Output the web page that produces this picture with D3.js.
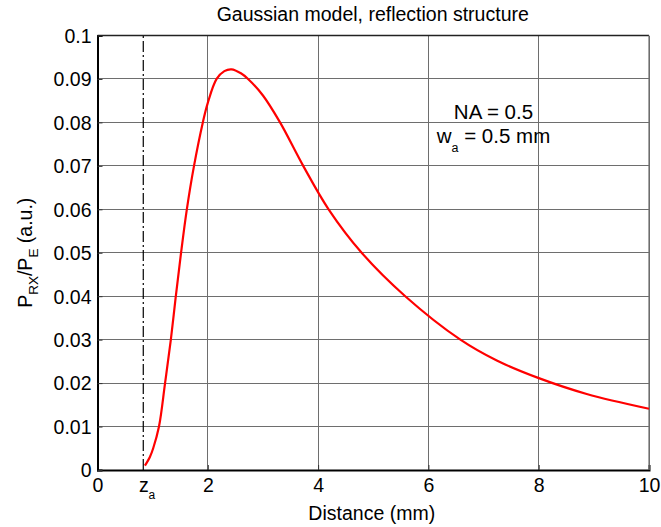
<!DOCTYPE html>
<html><head><meta charset="utf-8">
<script src="https://cdn.jsdelivr.net/npm/d3@7"></script>
<style>
body{margin:0;background:#fff}
svg text{font-family:"Liberation Sans",Arial,Helvetica,sans-serif;fill:#000}
</style>
</head><body>
<svg id="chart" width="661" height="527"></svg>
<script>
// ---- data ----
const distance = [0.86, 0.95, 1.01, 1.115, 1.225, 1.33, 1.42, 1.515, 1.62, 1.75, 1.91, 2.0, 2.16, 2.3, 2.43, 2.6, 2.73, 3.0, 3.31, 3.73, 4.19, 4.79, 5.58, 6.58, 7.24, 7.99, 8.87, 10.0];
const power    = [0.001, 0.003, 0.005, 0.010, 0.020, 0.030, 0.040, 0.050, 0.060, 0.070, 0.080, 0.0845, 0.090, 0.0918, 0.0922, 0.0913, 0.090, 0.0862, 0.080, 0.070, 0.060, 0.050, 0.040, 0.030, 0.0252, 0.0212, 0.0175, 0.0141];
const zA = 0.83;
const xTickValues = [0, zA, 2, 4, 6, 8, 10];
const xTickLabels = ["0", "z_a", "2", "4", "6", "8", "10"];
const xGridValues = [2, 4, 6, 8, 10];
const yTickValues = [0, 0.01, 0.02, 0.03, 0.04, 0.05, 0.06, 0.07, 0.08, 0.09, 0.1];
const yTickLabels = ["0", "0.01", "0.02", "0.03", "0.04", "0.05", "0.06", "0.07", "0.08", "0.09", "0.1"];
const titleText = "Gaussian model, reflection structure";
const xLabelText = "Distance (mm)";
const annotNA = "NA = 0.5";
const annotW = ["w", "a", " = 0.5 mm"];

// ---- layout ----
const W = 661, H = 527;
const m = {left: 97.5, right: 12, top: 35.5, bottom: 57};
const svg = d3.select("#chart");
const x = d3.scaleLinear().domain([0, 10]).range([m.left, W - m.right]);
const y = d3.scaleLinear().domain([0, 0.1]).range([H - m.bottom, m.top]);
const FS = 19.5;

// grid
const grid = svg.append("g").attr("stroke", "#6e6e6e").attr("stroke-width", 1).attr("shape-rendering", "crispEdges");
grid.selectAll("line.gx").data(xGridValues).join("line")
  .attr("x1", d => x(d)).attr("x2", d => x(d)).attr("y1", y(0)).attr("y2", y(0.1));
grid.selectAll("line.gy").data(yTickValues.slice(1, -1)).join("line")
  .attr("y1", d => y(d)).attr("y2", d => y(d)).attr("x1", x(0)).attr("x2", x(10));

// axes (ticks drawn inward)
const xAxis = d3.axisBottom(x).tickValues(xTickValues).tickSize(-5).tickPadding(8)
  .tickFormat((d, i) => xTickLabels[i]);
const gx = svg.append("g").attr("transform", `translate(0,${y(0)})`).call(xAxis);
const yAxis = d3.axisLeft(y).tickValues(yTickValues).tickSize(-5).tickPadding(6)
  .tickFormat((d, i) => yTickLabels[i]);
const gy = svg.append("g").attr("transform", `translate(${x(0)},0)`).call(yAxis);
[gx, gy].forEach(g => {
  g.select(".domain").attr("stroke", "#000").attr("stroke-width", 2);
  g.selectAll(".tick line").attr("stroke", "#333");
  g.selectAll("text").attr("font-size", FS).attr("font-family", null);
});
gx.selectAll(".tick line").filter(d => d === zA || d === 0).remove();
gx.selectAll(".tick text").attr("dy", null).attr("y", 22);
gy.selectAll(".tick text").attr("x", -6).attr("dy", "0.35em");
// subscript label for z_a
gx.selectAll(".tick text").filter(d => d === zA).each(function() {
  const t = d3.select(this).text(null).attr("text-anchor", "start").attr("x", -4.9);
  const parts = xTickLabels[xTickValues.indexOf(zA)].split("_");
  t.append("tspan").text(parts[0]);
  t.append("tspan").attr("font-size", 12).attr("dy", 7).text(parts[1]);
});
// top border
svg.append("line").attr("x1", x(0)).attr("x2", x(10)).attr("y1", y(0.1)).attr("y2", y(0.1))
  .attr("stroke", "#222").attr("stroke-width", 1.5);
// right border
svg.append("line").attr("x1", x(10)).attr("x2", x(10)).attr("y1", y(0.1)).attr("y2", y(0))
  .attr("stroke", "#6e6e6e").attr("stroke-width", 1.2);

// dash-dot z_a marker
svg.append("line").attr("x1", x(zA)).attr("x2", x(zA)).attr("y1", y(0)).attr("y2", y(0.1))
  .attr("stroke", "#000").attr("stroke-width", 1.2).attr("stroke-dasharray", "11,3,2,3");

// curve
const line = d3.line().x(d => x(d[0])).y(d => y(d[1])).curve(d3.curveCatmullRom.alpha(0.5));
svg.append("path").datum(distance.map((d, i) => [d, power[i]]))
  .attr("d", line).attr("fill", "none").attr("stroke", "#ff0000").attr("stroke-width", 2.2)
  .attr("stroke-linejoin", "round");

// title
svg.append("text").attr("x", (x(0) + x(10)) / 2 - 0.5).attr("y", 21).attr("text-anchor", "middle")
  .attr("font-size", FS).text(titleText);
// x label
svg.append("text").attr("x", (x(0) + x(10)) / 2 - 1.5).attr("y", 520).attr("text-anchor", "middle")
  .attr("font-size", FS).text(xLabelText);
// y label
const yl = svg.append("text").attr("transform", `translate(31.5,${(y(0) + y(0.1)) / 2}) rotate(-90)`)
  .attr("text-anchor", "middle").attr("font-size", FS);
yl.append("tspan").text("P");
yl.append("tspan").attr("font-size", 13.5).attr("dy", 6).text("RX");
yl.append("tspan").attr("dy", -6).text("/P");
yl.append("tspan").attr("font-size", 13.5).attr("dy", 6).text("E");
yl.append("tspan").attr("dy", -6).text(" (a.u.)");

// annotation
const ax = x(7.18);
svg.append("text").attr("x", ax).attr("y", 119).attr("text-anchor", "middle").attr("font-size", 20.5).text(annotNA);
const wt = svg.append("text").attr("x", ax).attr("y", 143.3).attr("text-anchor", "middle").attr("font-size", 20.5);
wt.append("tspan").text(annotW[0]);
wt.append("tspan").attr("font-size", 12.5).attr("dy", 9).text(annotW[1]);
wt.append("tspan").attr("dy", -9).text(annotW[2]);
</script>
</body></html>
